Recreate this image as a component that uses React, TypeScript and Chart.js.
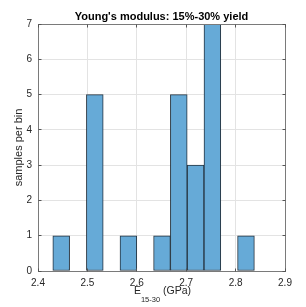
import React, { useEffect, useRef } from 'react';
import { Chart, registerables } from 'chart.js';

Chart.register(...registerables);

// Histogram bins (GPa) and counts per bin
const binEdges = [2.430, 2.464, 2.498, 2.532, 2.566, 2.600, 2.634, 2.668, 2.702, 2.736, 2.770, 2.804, 2.838];
const binCounts = [1, 0, 5, 0, 1, 0, 1, 5, 3, 7, 0, 1];

const xTickValues = [2.4, 2.5, 2.6, 2.7, 2.8, 2.9];
const xTickLabels = ['2.4', '2.5', '2.6', '2.7', '2.8', '2.9'];
const yTickValues = [0, 1, 2, 3, 4, 5, 6, 7];
const yTickLabels = ['0', '1', '2', '3', '4', '5', '6', '7'];

const titleText = "Young's modulus: 15%-30% yield";
const yLabelText = 'samples per bin';
const xLabelMain = 'E';
const xLabelSub = '15-30';
const xLabelTail = ' (GPa)';

const FONT = '"Liberation Sans", Arial, Helvetica, sans-serif';

const al = (v: number) => Math.round(v - 0.5) + 0.5;

const decorPlugin = {
  id: 'decor',
  afterDraw(chart: any) {
    const { ctx, chartArea } = chart;
    const { left, right, top, bottom } = chartArea;
    const xs = chart.scales.x;
    const ys = chart.scales.y;
    ctx.save();
    // box
    ctx.strokeStyle = '#7a7a7a';
    ctx.lineWidth = 1;
    const L = al(left), R = al(right), T = al(top), B = al(bottom);
    ctx.strokeRect(L, T, R - L, B - T);
    // inward ticks
    ctx.strokeStyle = '#555';
    ctx.beginPath();
    for (const v of yTickValues) {
      const y = al(ys.getPixelForValue(v));
      ctx.moveTo(L, y); ctx.lineTo(L + 3, y);
      ctx.moveTo(R, y); ctx.lineTo(R - 3, y);
    }
    for (const v of xTickValues) {
      const x = al(xs.getPixelForValue(v));
      ctx.moveTo(x, B); ctx.lineTo(x, B - 3);
      ctx.moveTo(x, T); ctx.lineTo(x, T + 3);
    }
    ctx.stroke();

    // title
    const cx = (left + right) / 2;
    ctx.fillStyle = '#000';
    ctx.font = `bold 11px ${FONT}`;
    ctx.textAlign = 'center';
    ctx.textBaseline = 'alphabetic';
    ctx.fillText(titleText, cx, 20);

    // y label
    ctx.fillStyle = '#262626';
    ctx.font = `11px ${FONT}`;
    ctx.save();
    ctx.translate(22, (top + bottom) / 2);
    ctx.rotate(-Math.PI / 2);
    ctx.textAlign = 'center';
    ctx.fillText(yLabelText, 0, 0);
    ctx.restore();

    // x label with subscript
    const mainFont = `10.5px ${FONT}`;
    const subFont = `7.5px ${FONT}`;
    ctx.textAlign = 'left';
    ctx.font = mainFont;
    const wMain = ctx.measureText(xLabelMain).width;
    const wTail = ctx.measureText(xLabelTail).width;
    ctx.font = subFont;
    const wSub = ctx.measureText(xLabelSub).width;
    const total = wMain + wSub + wTail;
    let x0 = cx + 1 - total / 2;
    ctx.font = mainFont;
    ctx.fillText(xLabelMain, x0, 294);
    x0 += wMain;
    ctx.font = subFont;
    ctx.fillText(xLabelSub, x0, 301.5);
    x0 += wSub;
    ctx.font = mainFont;
    ctx.fillText(xLabelTail, x0, 294);
    ctx.restore();
  },
};

export default function App() {
  const ref = useRef<HTMLCanvasElement | null>(null);
  useEffect(() => {
    document.body.style.margin = '0';
    const canvas = ref.current;
    if (!canvas) return;
    const points: { x: number; y: number }[] = [];
    for (let i = 0; i < binCounts.length; i++) {
      if (binCounts[i] > 0) {
        points.push({ x: (binEdges[i] + binEdges[i + 1]) / 2, y: binCounts[i] });
      }
    }
    const chart = new Chart(canvas, {
      type: 'bar',
      data: {
        datasets: [
          {
            data: points as any,
            backgroundColor: 'rgb(102,170,215)',
            borderColor: '#25333f',
            borderWidth: 1,
            borderSkipped: false,
            barPercentage: 1,
            categoryPercentage: 1,
          },
        ],
      },
      plugins: [decorPlugin],
      options: {
        animation: false,
        responsive: false,
        maintainAspectRatio: false,
        devicePixelRatio: 1,
        layout: { padding: { top: 24, right: 21, left: 0, bottom: 0 } },
        plugins: {
          legend: { display: false },
          tooltip: { enabled: false },
          title: { display: false },
        },
        scales: {
          x: {
            type: 'linear',
            min: 2.4,
            max: 2.9,
            offset: false,
            afterFit: (s: any) => { s.height = 36; },
            afterBuildTicks: (s: any) => { s.ticks = xTickValues.map((v) => ({ value: v })); },
            grid: { color: '#e3e3e3', drawTicks: false, offset: false },
            border: { display: false },
            ticks: {
              padding: 6,
              color: '#262626',
              font: { family: FONT, size: 10 },
              maxRotation: 0,
              autoSkip: false,
              callback: (_v: any, i: number) => xTickLabels[i],
            },
          },
          y: {
            type: 'linear',
            min: 0,
            max: 7,
            afterFit: (s: any) => { s.width = 38; },
            afterBuildTicks: (s: any) => { s.ticks = yTickValues.map((v) => ({ value: v })); },
            grid: { color: '#e3e3e3', drawTicks: false },
            border: { display: false },
            ticks: {
              padding: 6,
              color: '#262626',
              font: { family: FONT, size: 10 },
              autoSkip: false,
              callback: (_v: any, i: number) => yTickLabels[i],
            },
          },
        },
      },
    });
    return () => chart.destroy();
  }, []);
  return (
    <div style={{ width: 306, height: 307 }}>
      <canvas ref={ref} width={306} height={307} style={{ display: 'block', width: 306, height: 307 }} />
    </div>
  );
}
